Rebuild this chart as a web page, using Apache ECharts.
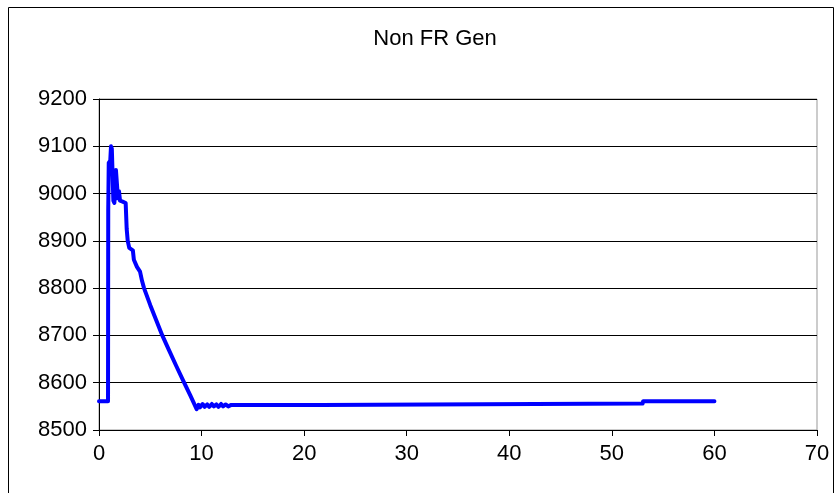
<!DOCTYPE html>
<html>
<head>
<meta charset="utf-8">
<script src="https://cdn.jsdelivr.net/npm/echarts@6/dist/echarts.min.js"></script>
<style>
  html, body { margin: 0; padding: 0; background: #fff; }
  #chart { width: 836px; height: 493px; }
</style>
</head>
<body>
<div id="chart"></div>
<script>
// Generation (MW) against time (s)
const chartTitle = 'Non FR Gen';
const timeSec = [
  0, 0.88, 0.90, 0.95, 1.10, 1.17, 1.25, 1.40, 1.50, 1.65, 1.75, 1.85, 1.95, 2.05,
  2.30, 2.60, 2.70, 2.80, 2.95, 3.30, 3.40, 3.70, 4.00, 4.20, 4.39, 5.00, 5.60,
  6.17, 6.80, 7.50, 8.30, 8.90, 9.52, 9.70, 9.85, 10.10, 10.30, 10.55, 10.75,
  11.00, 11.20, 11.45, 11.65, 11.90, 12.10, 12.35, 12.60, 12.90, 21.70, 21.75,
  53.00, 53.05, 60.00
];
const genMW = [
  8561, 8561, 8965, 9065, 9070, 9100, 9095, 8985, 8980, 9050, 9052, 8990, 9005, 8985,
  8983, 8980, 8925, 8900, 8885, 8880, 8860, 8845, 8835, 8815, 8800, 8764, 8731,
  8700, 8670, 8637, 8600, 8573, 8544, 8553, 8548, 8555, 8549, 8554, 8549,
  8555, 8550, 8554, 8549, 8555, 8550, 8554, 8550, 8553, 8553, 8556,
  8556, 8561, 8561
];
const xTicks = { min: 0, max: 70, step: 10 };
const yTicks = { min: 8500, max: 9200, step: 100 };

const points = timeSec.map((t, i) => [t, genMW[i]]);

const chart = echarts.init(document.getElementById('chart'), null, { renderer: 'canvas' });
const fontFamily = '"Liberation Sans", Arial, sans-serif';

chart.setOption({
  animation: false,
  backgroundColor: '#ffffff',
  title: {
    text: chartTitle,
    left: 430,
    top: 23,
    textAlign: 'center',
    textStyle: { fontFamily, fontSize: 22, fontWeight: 'normal', color: '#000' }
  },
  graphic: [{
    type: 'rect',
    shape: { x: 8.5, y: 7.5, width: 825, height: 500 },
    style: { fill: 'none', stroke: '#000', lineWidth: 1 },
    silent: true
  }],
  grid: {
    left: 99, right: 19, top: 99, bottom: 63,
    show: true, borderColor: '#999', borderWidth: 1, backgroundColor: 'transparent'
  },
  xAxis: {
    type: 'value',
    min: xTicks.min, max: xTicks.max, interval: xTicks.step,
    axisLine: { show: true, onZero: false, lineStyle: { color: '#000', width: 1 } },
    axisTick: { show: true, inside: false, length: 6, lineStyle: { color: '#000' } },
    axisLabel: { margin: 13, fontFamily, fontSize: 22, color: '#000', formatter: v => String(v) },
    splitLine: { show: false }
  },
  yAxis: {
    type: 'value',
    min: yTicks.min, max: yTicks.max, interval: yTicks.step,
    axisLine: { show: true, lineStyle: { color: '#000', width: 1 } },
    axisTick: { show: true, inside: false, length: 6, lineStyle: { color: '#000' } },
    axisLabel: { margin: 12, fontFamily, fontSize: 22, color: '#000', formatter: v => String(v) },
    splitLine: { show: true, lineStyle: { color: '#000', width: 1 } }
  },
  series: [{
    type: 'line',
    data: points,
    showSymbol: false,
    symbol: 'none',
    lineStyle: { color: '#0000ff', width: 4, join: 'round', cap: 'round' },
    z: 5
  }]
});
</script>
</body>
</html>
